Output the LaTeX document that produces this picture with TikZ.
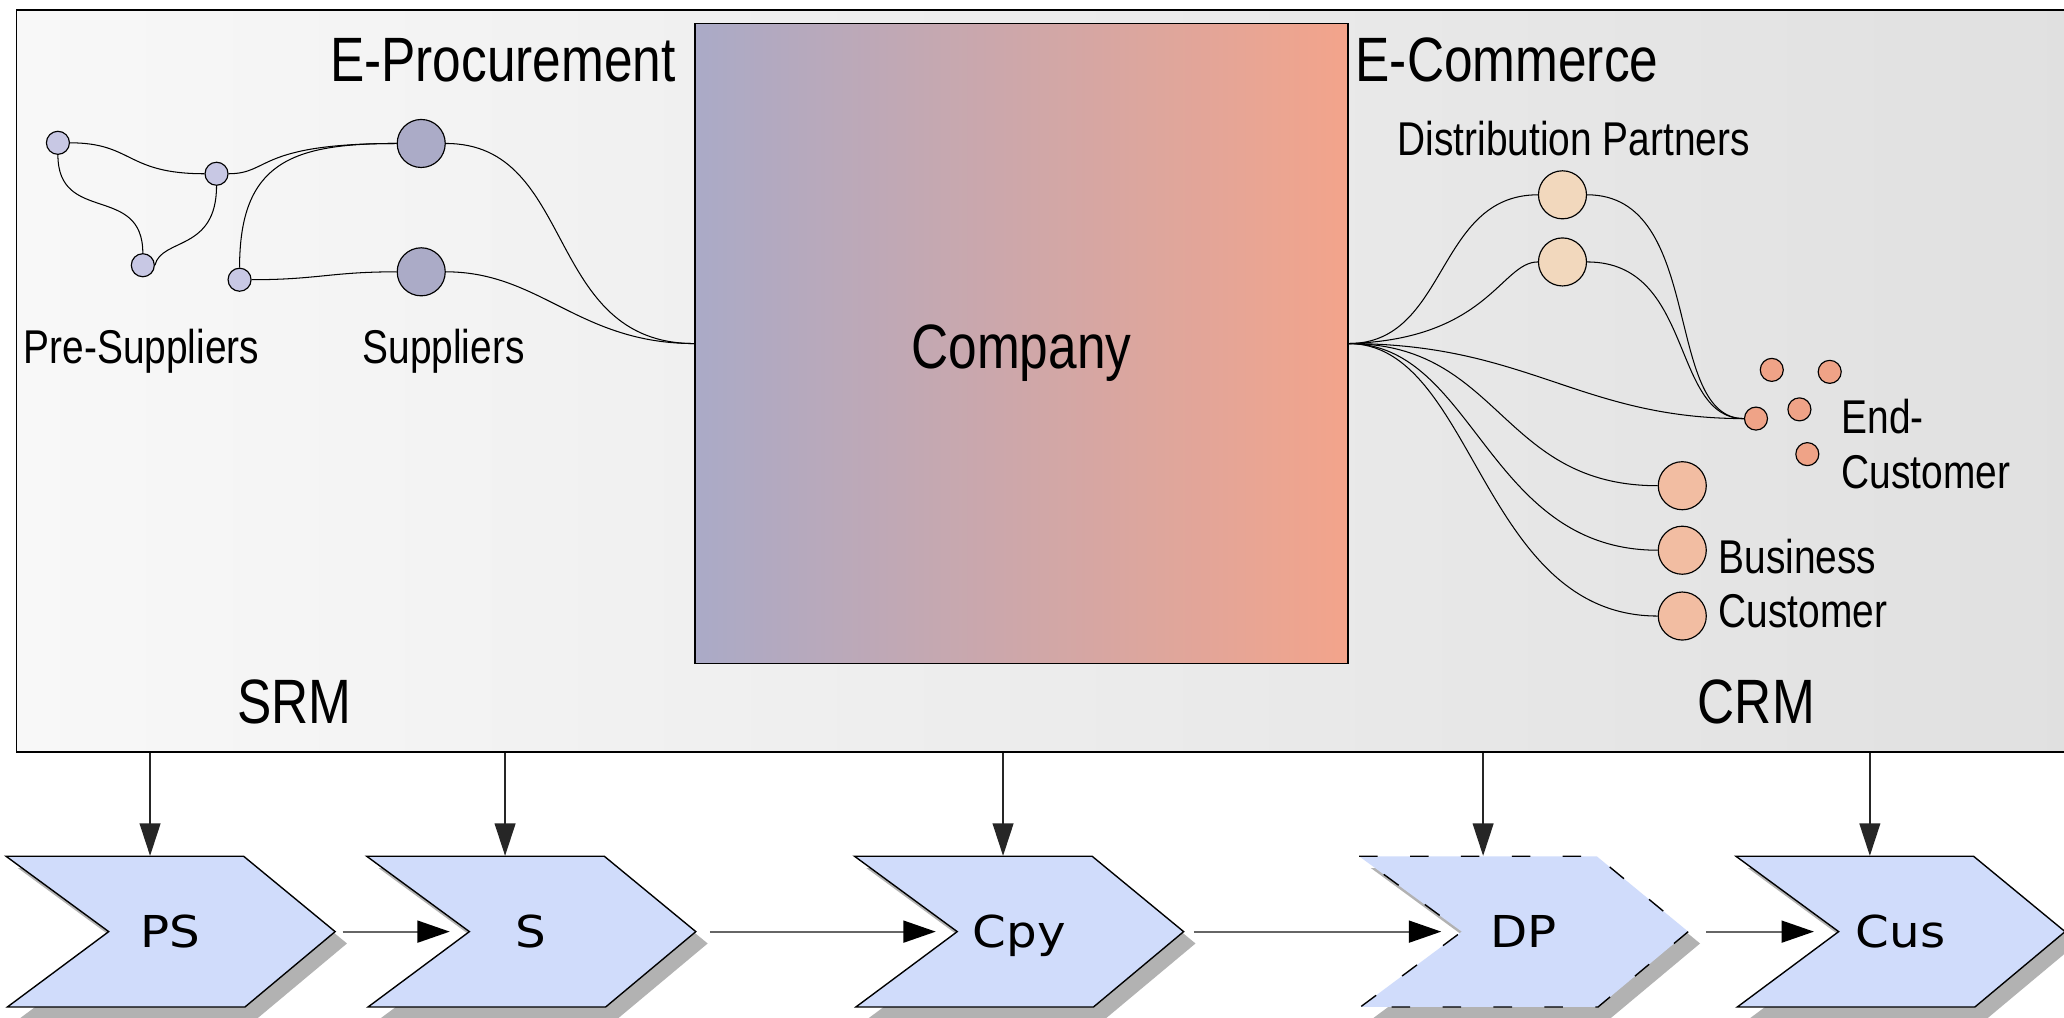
\documentclass[tikz,border=0pt]{standalone}
\usepackage{fontspec}
\setmainfont{Liberation Sans}[FakeStretch=0.82]
\newfontfamily\chevfont{DejaVu Sans}[FakeStretch=1.1]
\usetikzlibrary{arrows.meta}

\definecolor{framel}{HTML}{F8F8F8}
\definecolor{framer}{HTML}{E0E0E0}
\definecolor{compl}{HTML}{AAAAC7}
\definecolor{compr}{HTML}{F3A48B}
\definecolor{presup}{HTML}{C8C8E4}
\definecolor{sup}{HTML}{ABABC7}
\definecolor{distc}{HTML}{F2D8BD}
\definecolor{endc}{HTML}{EFA387}
\definecolor{busc}{HTML}{F2BDA2}
\definecolor{chevc}{HTML}{D0DCFB}
\definecolor{shadowc}{HTML}{B2B2B2}

% one chevron: name, left x, label, extra border options
\newcommand\chevron[4]{%
  \fill[shadowc, shift={(9,9)}] (#2,650.5) -- (#2+180.5,650.5) -- (#2+250,707.75)
    -- (#2+181.5,765) -- (#2+1,765) -- (#2+78,707.75) -- cycle;
  \draw[fill=chevc, line width=0.6pt, #4] (#2,650.5) -- (#2+180.5,650.5) -- (#2+250,707.75)
    -- (#2+181.5,765) -- (#2+1,765) -- (#2+78,707.75) -- cycle;
  \node[chevlabel] (#1) at (#2+125,707.75) {#3};
  \coordinate (#1-notch) at (#2+78,707.75);
}

\begin{document}
\begin{tikzpicture}[x=0.02cm, y=-0.02cm,
  link/.style={draw=black, line width=0.45pt},
  dot/.style={circle, draw=black, line width=0.5pt, inner sep=0pt, minimum size=0.35cm},
  bigdot/.style={dot, minimum size=0.73cm},
  bigtxt/.style={inner sep=0pt, anchor=base west, font=\fontsize{27.1}{32}\selectfont},
  smalltxt/.style={inner sep=0pt, anchor=base west, font=\fontsize{20.5}{24}\selectfont},
  chevlabel/.style={inner sep=0pt, minimum width=5cm, minimum height=2.29cm,
    text height=13.9pt, text depth=0pt, font=\chevfont\fontsize{19}{22}\selectfont},
  downarr/.style={-{Triangle[length=14pt,width=9pt]}, line width=0.6pt, draw=black!85},
  flowarr/.style={-{Triangle[length=14pt,width=9.5pt,color=black]}, line width=0.8pt, draw=black!60}
]
\fill[white] (0,0) rectangle (1568,773);
\useasboundingbox (0,0) rectangle (1568,773);

% outer frame and the company block
\node[draw, line width=0.6pt, left color=framel, right color=framer, anchor=north west,
  minimum width=31.5cm, minimum height=11.28cm, inner sep=0pt] (frame) at (12,7) {};
\node[draw, line width=0.6pt, left color=compl, right color=compr,
  minimum width=9.92cm, minimum height=9.72cm, inner sep=0pt] (C) at (776,261) {};
\node[bigtxt, anchor=base] (companylabel) at (776,280) {Company};

% supply side
\node[dot, fill=presup] (P1) at (44,108.5) {};
\node[dot, fill=presup] (P2) at (164.5,132) {};
\node[dot, fill=presup] (P3) at (108.5,201.5) {};
\node[dot, fill=presup] (P4) at (182,212.5) {};
\node[bigdot, fill=sup] (S1) at (320,109) {};
\node[bigdot, fill=sup] (S2) at (320,206.5) {};

% distribution side
\node[bigdot, fill=distc] (D1) at (1187,148) {};
\node[bigdot, fill=distc] (D2) at (1187,199) {};
\node[dot, fill=endc] (E1) at (1346,281) {};
\node[dot, fill=endc] (E2) at (1390,282.5) {};
\node[dot, fill=endc] (E3) at (1367,311) {};
\node[dot, fill=endc] (E4) at (1334,318) {};
\node[dot, fill=endc] (E5) at (1373,345) {};
\node[bigdot, fill=busc] (B1) at (1278,369) {};
\node[bigdot, fill=busc] (B2) at (1278,418) {};
\node[bigdot, fill=busc] (B3) at (1278,468) {};

% links
\draw[link] (P1.east) .. controls +(48,0) and +(-60,0) .. (P2.west);
\draw[link] (P1.south) .. controls +(0,53) and +(0,-53) .. (P3.north);
\draw[link] (P3.east) .. controls +(5,-21) and +(0,50) .. (P2.south);
\draw[link] (P2.east) .. controls +(32,0) and +(-107,0) .. (S1.west);
\draw[link] (P4.north) .. controls +(0,-80) and +(-80,0) .. (S1.west);
\draw[link] (P4.east) .. controls +(50,0) and +(-50,0) .. (S2.west);
\draw[link] (S1.east) .. controls +(100,0) and +(-115,0) .. (C.west);
\draw[link] (S2.east) .. controls +(72,0) and +(-88,0) .. (C.west);

\draw[link] (C.east) .. controls +(76,0) and +(-78,0) .. (D1.west);
\draw[link] (C.east) .. controls +(106,-3) and +(-28,0) .. (D2.west);
\draw[link] (D1.east) .. controls +(90,0) and +(-62,0) .. (E4.west);
\draw[link] (D2.east) .. controls +(82,0) and +(-56,0) .. (E4.west);
\draw[link] (C.east) .. controls +(136,0) and +(-125,0) .. (E4.west);
\draw[link] (C.east) .. controls +(116,0) and +(-120,0) .. (B1.west);
\draw[link] (C.east) .. controls +(96,0) and +(-130,0) .. (B2.west);
\draw[link] (C.east) .. controls +(96,0) and +(-135,0) .. (B3.west);

% labels
\node[bigtxt] (eproc) at (250.5,62) {E-Procurement};
\node[bigtxt] (ecomm) at (1029.5,62) {E-Commerce};
\node[smalltxt] (distlabel) at (1061.5,117.8) {Distribution Partners};
\node[smalltxt] (prelabel) at (17.7,276) {Pre-Suppliers};
\node[smalltxt] (suplabel) at (275,276) {Suppliers};
\node[smalltxt] (endlabelA) at (1398.7,329) {End-};
\node[smalltxt] (endlabelB) at (1398.7,371) {Customer};
\node[smalltxt] (buslabelA) at (1305.3,436) {Business};
\node[smalltxt] (buslabelB) at (1305.3,477) {Customer};
\node[bigtxt] (srm) at (180,550) {SRM};
\node[bigtxt] (crm) at (1289.5,549.5) {CRM};

% value chain
\chevron{PS}{4.6}{PS}{}
\chevron{S}{278.6}{S}{}
\chevron{Cpy}{649.2}{Cpy}{}
\chevron{DP}{1032.5}{DP}{dash pattern=on 8pt off 14pt}
\chevron{Cus}{1318.8}{Cus}{}

\coordinate (dPS) at (114,0);
\coordinate (dS) at (383.7,0);
\coordinate (dCpy) at (762,0);
\coordinate (dDP) at (1126.7,0);
\coordinate (dCus) at (1420.5,0);
\draw[downarr] (frame.south -| dPS) -- (PS.north -| dPS);
\draw[downarr] (frame.south -| dS) -- (S.north -| dS);
\draw[downarr] (frame.south -| dCpy) -- (Cpy.north -| dCpy);
\draw[downarr] (frame.south -| dDP) -- (DP.north -| dDP);
\draw[downarr] (frame.south -| dCus) -- (Cus.north -| dCus);

\draw[flowarr, shorten <=3.1pt, shorten >=8.5pt] (PS.east) -- (S-notch);
\draw[flowarr, shorten <=5.9pt, shorten >=9.3pt] (S.east) -- (Cpy-notch);
\draw[flowarr, shorten <=4.2pt, shorten >=8.9pt] (Cpy.east) -- (DP-notch);
\draw[flowarr, shorten <=7.6pt, shorten >=10.7pt] (DP.east) -- (Cus-notch);
\end{tikzpicture}
\end{document}
